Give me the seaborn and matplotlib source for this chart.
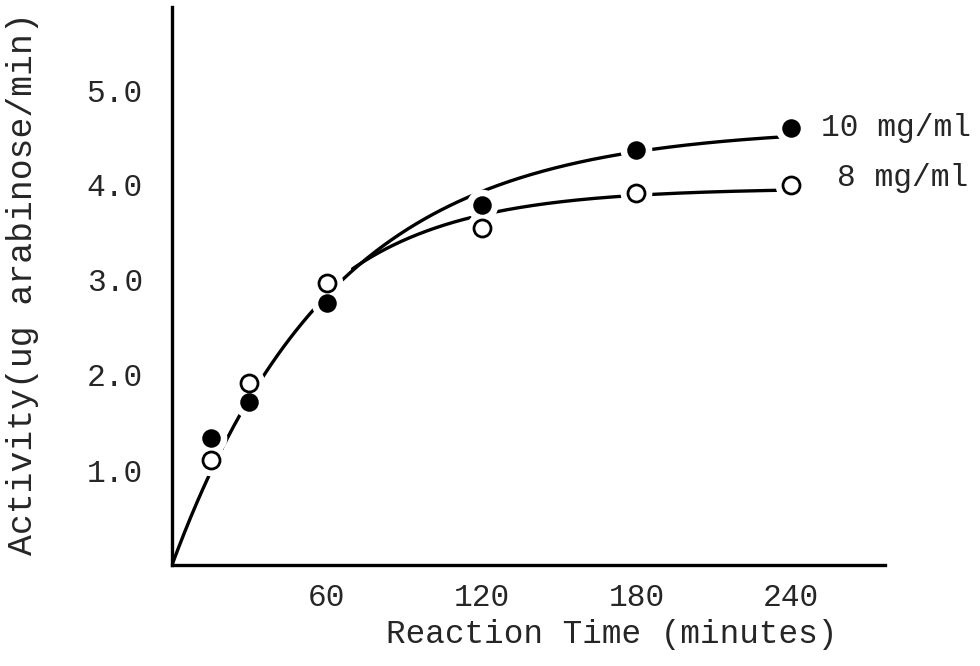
import numpy as np
import pandas as pd
import seaborn as sns
import matplotlib.pyplot as plt

# values
minutes = [15, 30, 60, 120, 180, 240]
act_10 = [1.34, 1.72, 2.76, 3.79, 4.37, 4.60]   # 10 mg/ml, filled circles
act_8 = [1.11, 1.92, 2.97, 3.55, 3.92, 4.00]    # 8 mg/ml, open circles
x_ticks = [60, 120, 180, 240]
y_ticks = [1.0, 2.0, 3.0, 4.0, 5.0]
labels = ["10 mg/ml", "8 mg/ml"]

sns.set_style("white")
plt.rcParams['font.family'] = ['Liberation Mono', 'DejaVu Sans Mono']


def fit_curve(t, y):
    # least squares fit of y = a*(1 - exp(-t/tau)) so the curve leaves the origin
    t = np.asarray(t, float)
    y = np.asarray(y, float)
    best = None
    for tau in np.linspace(20, 200, 901):
        b = 1 - np.exp(-t / tau)
        a = b @ y / (b @ b)
        err = ((a * b - y) ** 2).sum()
        if best is None or err < best[0]:
            best = (err, a, tau)
    return best[1], best[2]


a10, tau10 = fit_curve(minutes, act_10)
a8, tau8 = fit_curve(minutes, act_8)

t10 = np.linspace(0, max(minutes), 300)
t8 = np.linspace(70, max(minutes), 200)
curve10 = pd.DataFrame({"t": t10, "y": a10 * (1 - np.exp(-t10 / tau10))})
curve8 = pd.DataFrame({"t": t8, "y": a8 * (1 - np.exp(-t8 / tau8))})
pts10 = pd.DataFrame({"t": minutes, "y": act_10})
pts8 = pd.DataFrame({"t": minutes, "y": act_8})

fig = plt.figure(figsize=(9.8, 6.66), dpi=100)
ax = fig.add_axes([172 / 980, 101 / 666, 713 / 980, 558 / 666])

sns.lineplot(data=curve10, x="t", y="y", ax=ax, color="black", lw=2.4,
             sort=False, estimator=None, zorder=2)
sns.lineplot(data=curve8, x="t", y="y", ax=ax, color="black", lw=2.4,
             sort=False, estimator=None, zorder=2)

# white halos leave the little gaps the pen left around each point
for pts in (pts10, pts8):
    sns.scatterplot(data=pts, x="t", y="y", ax=ax, s=520, color="white",
                    linewidth=0, zorder=3)
sns.scatterplot(data=pts10, x="t", y="y", ax=ax, s=140, color="black",
                edgecolor="black", linewidth=1.5, zorder=4)
sns.scatterplot(data=pts8, x="t", y="y", ax=ax, s=150, color="white",
                edgecolor="black", linewidth=2.0, zorder=4)

ax.annotate(labels[0], (minutes[-1], act_10[-1]), xytext=(30, 0),
            textcoords="offset pixels", ha="left", va="center", fontsize=22.5)
ax.annotate(labels[1], (minutes[-1], act_8[-1]), xytext=(46, 7),
            textcoords="offset pixels", ha="left", va="center", fontsize=22.5)

ax.set_xlim(0, 713 / 2.58)
ax.set_ylim(0, 558 / 95)
ax.set_xticks(x_ticks)
ax.set_xticklabels([str(v) for v in x_ticks])
ax.set_yticks(y_ticks)
ax.set_yticklabels([f"{v:.1f}" for v in y_ticks])
ax.tick_params(length=0, labelsize=22.5)
ax.tick_params(axis="x", pad=13)
ax.tick_params(axis="y", pad=21)

for side in ("top", "right"):
    ax.spines[side].set_visible(False)
for side in ("left", "bottom"):
    ax.spines[side].set_linewidth(2.4)
    ax.spines[side].set_color("black")

ax.set_xlabel("Reaction Time (minutes)", fontsize=23.5)
ax.xaxis.set_label_coords((612 - 172) / 713, -(635 - 565) / 558)
ax.xaxis.label.set_va("center")
ax.set_ylabel("Activity(ug arabinose/min)", fontsize=25)
ax.yaxis.set_label_coords((22 - 172) / 713, (565 - 284) / 558)
ax.yaxis.label.set_va("center")

fig.savefig("out.png", dpi=100)
